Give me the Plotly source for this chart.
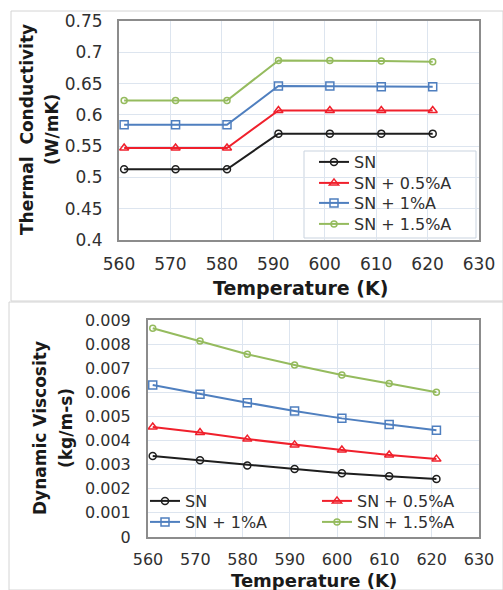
import plotly.graph_objects as go

# ---- data ----
temperature = [561, 571, 581, 591, 601, 611, 621]
series_names = ["SN", "SN + 0.5%A", "SN + 1%A", "SN + 1.5%A"]

tc_sn = [0.513, 0.513, 0.513, 0.570, 0.570, 0.570, 0.570]
tc_sn05 = [0.547, 0.547, 0.547, 0.607, 0.607, 0.607, 0.607]
tc_sn1 = [0.584, 0.584, 0.584, 0.646, 0.646, 0.645, 0.645]
tc_sn15 = [0.623, 0.623, 0.623, 0.687, 0.687, 0.686, 0.685]

dv_sn = [0.00336, 0.00318, 0.00297, 0.00282, 0.00264, 0.00252, 0.00241]
dv_sn05 = [0.00456, 0.00433, 0.00406, 0.00382, 0.00361, 0.00340, 0.00323]
dv_sn1 = [0.00630, 0.00592, 0.00557, 0.00523, 0.00492, 0.00467, 0.00443]
dv_sn15 = [0.00866, 0.00813, 0.00758, 0.00713, 0.00672, 0.00637, 0.00600]

x_ticks = [560, 570, 580, 590, 600, 610, 620, 630]
tc_ticks = [0.4, 0.45, 0.5, 0.55, 0.6, 0.65, 0.7, 0.75]
tc_tick_text = ["0.4", "0.45", "0.5", "0.55", "0.6", "0.65", "0.7", "0.75"]
dv_ticks = [0, 0.001, 0.002, 0.003, 0.004, 0.005, 0.006, 0.007, 0.008, 0.009]
dv_tick_text = ["0", "0.001", "0.002", "0.003", "0.004", "0.005", "0.006", "0.007", "0.008", "0.009"]

# ---- styles ----
colors = ["#1e1e1e", "#f0202c", "#4f7fbf", "#95bb5e"]
symbols = ["circle-open", "triangle-up-open", "square-open", "circle-open"]
msizes = [7, 8, 8, 6]
W, H = 503, 590
FONT = "DejaVu Sans"
TXT = "#303030"


def px_x(p):
    return p / W


def px_y(p):
    return 1 - p / H


fig = go.Figure()

tc_all = [tc_sn, tc_sn05, tc_sn1, tc_sn15]
dv_all = [dv_sn, dv_sn05, dv_sn1, dv_sn15]

# one legend per entry so rows can be placed exactly
top_legend_rows = [162, 183, 203, 224]
top_legend_x = 314
bottom_legend_pos = [(145, 501), (317, 501), (145, 522), (317, 522)]

legend_layouts = {}
for i, (name, ys) in enumerate(zip(series_names, tc_all)):
    lg = "legend" if i == 0 else f"legend{i + 1}"
    legend_layouts[lg] = dict(x=px_x(top_legend_x), y=px_y(top_legend_rows[i]),
                              xanchor="left", yanchor="middle")
    fig.add_trace(go.Scatter(
        x=temperature, y=ys, name=name, mode="lines+markers",
        line=dict(color=colors[i], width=2),
        marker=dict(symbol=symbols[i], size=msizes[i], color=colors[i],
                    line=dict(width=1.5, color=colors[i])),
        xaxis="x", yaxis="y", legend=lg))

for i, (name, ys) in enumerate(zip(series_names, dv_all)):
    lg = f"legend{i + 5}"
    bx, by = bottom_legend_pos[i]
    legend_layouts[lg] = dict(x=px_x(bx), y=px_y(by), xanchor="left", yanchor="middle")
    fig.add_trace(go.Scatter(
        x=temperature, y=ys, name=name, mode="lines+markers",
        line=dict(color=colors[i], width=2),
        marker=dict(symbol=symbols[i], size=msizes[i], color=colors[i],
                    line=dict(width=1.5, color=colors[i])),
        xaxis="x2", yaxis="y2", legend=lg))

for k, v in legend_layouts.items():
    v.update(bgcolor="rgba(0,0,0,0)", borderwidth=0,
             font=dict(family=FONT, size=16, color=TXT))

axis_common = dict(
    showgrid=True, gridcolor="#dde5ef", gridwidth=1,
    showline=True, linecolor="#8c8c8c", linewidth=2, mirror=True,
    zeroline=False, ticks="", automargin=False,
)

fig.update_layout(
    width=W, height=H,
    margin=dict(l=0, r=0, t=0, b=0),
    paper_bgcolor="white", plot_bgcolor="white",
    showlegend=True,
    xaxis=dict(domain=[px_x(119), px_x(479)], range=[560, 630],
               tickvals=x_ticks, ticklabelstandoff=8, anchor="y",
               tickfont=dict(family=FONT, size=17, color=TXT), **axis_common),
    yaxis=dict(domain=[px_y(240), px_y(21)], range=[0.4, 0.75],
               tickvals=tc_ticks, ticktext=tc_tick_text, ticklabelstandoff=11,
               anchor="x", tickfont=dict(family=FONT, size=17, color=TXT), **axis_common),
    xaxis2=dict(domain=[px_x(148), px_x(479)], range=[560, 630],
                tickvals=x_ticks, ticklabelstandoff=7, anchor="y2",
                tickfont=dict(family=FONT, size=16, color=TXT), **axis_common),
    yaxis2=dict(domain=[px_y(537), px_y(320)], range=[0, 0.009],
                tickvals=dv_ticks, ticktext=dv_tick_text, ticklabelstandoff=12,
                anchor="x2", tickfont=dict(family=FONT, size=16, color=TXT), **axis_common),
    **legend_layouts,
)

# panel frames and legend box
fig.add_shape(type="rect", xref="paper", yref="paper",
              x0=px_x(11), x1=px_x(503), y0=px_y(301), y1=px_y(11),
              line=dict(color="#d4d4d4", width=1), fillcolor="rgba(0,0,0,0)", layer="below")
fig.add_shape(type="rect", xref="paper", yref="paper",
              x0=px_x(9), x1=px_x(503), y0=px_y(590), y1=px_y(302),
              line=dict(color="#d4d4d4", width=1), fillcolor="rgba(0,0,0,0)", layer="below")
fig.add_shape(type="rect", xref="paper", yref="paper",
              x0=px_x(304), x1=px_x(476), y0=px_y(238), y1=px_y(151),
              line=dict(color="#c9d3df", width=1), fillcolor="white", layer="between")

x_title_font = dict(family=FONT, size=19, color="#1a1a1a")
x_title_font2 = dict(family=FONT, size=18, color="#1a1a1a")
y_title_font = dict(family=FONT, size=17, color="#1a1a1a")
annots = [
    dict(text="<b>Temperature (K)</b>", x=px_x(300), y=px_y(288), font=x_title_font),
    dict(text="<b>Temperature (K)</b>", x=px_x(314), y=px_y(580), font=x_title_font2),
    dict(text="<b>Thermal  Conductivity</b>", x=px_x(27), y=px_y(130), textangle=-90, font=y_title_font),
    dict(text="<b>(W/mK)</b>", x=px_x(52), y=px_y(130), textangle=-90, font=y_title_font),
    dict(text="<b>Dynamic Viscosity</b>", x=px_x(40), y=px_y(428), textangle=-90, font=y_title_font),
    dict(text="<b>(kg/m-s)</b>", x=px_x(66), y=px_y(428), textangle=-90, font=y_title_font),
]
for a in annots:
    fig.add_annotation(xref="paper", yref="paper", xanchor="center", yanchor="middle",
                       showarrow=False, **a)

fig.write_html(
    "out.html",
    config={"displayModeBar": False},
    post_script="document.body.style.margin='0';document.body.style.overflow='hidden';",
)
